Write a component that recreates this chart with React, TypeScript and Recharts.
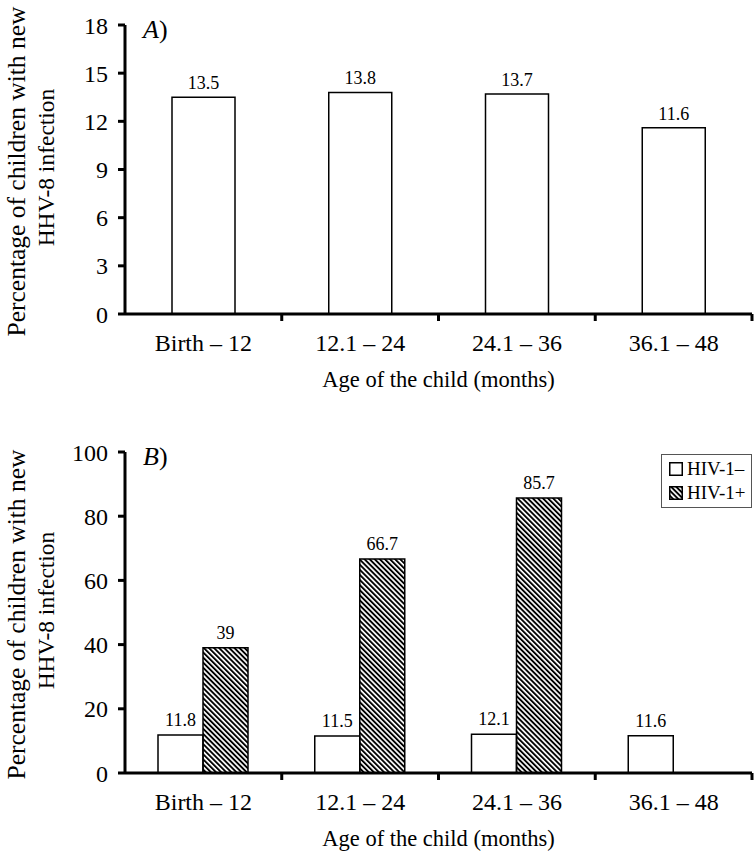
import React from "react";
import { Bar, BarChart, LabelList, Legend, XAxis, YAxis } from "recharts";

const ageGroups = ["Birth – 12", "12.1 – 24", "24.1 – 36", "36.1 – 48"];
const overallPct = [13.5, 13.8, 13.7, 11.6];
const hivNegPct = [11.8, 11.5, 12.1, 11.6];
const hivPosPct: (number | null)[] = [39, 66.7, 85.7, null];
const ticksA = [0, 3, 6, 9, 12, 15, 18];
const ticksB = [0, 20, 40, 60, 80, 100];

const FONT = "Liberation Serif, Times New Roman, serif";
const TICK_SIZE = 6;
const TICK_MARGIN = 14;

const dataA = ageGroups.map((age, i) => ({ age, pct: overallPct[i] }));
const dataB = ageGroups.map((age, i) => ({ age, neg: hivNegPct[i], pos: hivPosPct[i] }));

// category label centred, tick mark at the right edge of each band
function AgeTick(props: any) {
  const { x, y, payload } = props;
  const half = payload?.offset ?? (props.width ? props.width / 8 : 78);
  const axisY = y - TICK_SIZE - TICK_MARGIN;
  return (
    <g>
      <line x1={x + half} x2={x + half} y1={axisY} y2={axisY + 7} stroke="#000" strokeWidth={3} />
      <text x={x} y={axisY + 37} textAnchor="middle" fontSize={24} fontFamily={FONT} fill="#000">
        {payload.value}
      </text>
    </g>
  );
}

function yTitle(panel: string) {
  return (props: any) => {
    const vb = props.viewBox;
    const cy = vb.y + vb.height / 2;
    const right = vb.x + vb.width;
    return (
      <g fill="#000" fontFamily={FONT}>
        <text
          transform={`translate(${vb.x + 16}, ${cy + 2}) rotate(-90)`}
          textAnchor="middle"
          dominantBaseline="central"
          fontSize={25.5}
        >
          Percentage of children with new
        </text>
        <text
          transform={`translate(${vb.x + 46}, ${cy - 2}) rotate(-90)`}
          textAnchor="middle"
          dominantBaseline="central"
          fontSize={23.5}
        >
          HHV-8 infection
        </text>
        <text x={right + 18} y={vb.y + 13} fontSize={26}>
          <tspan fontStyle="italic">{panel}</tspan>)
        </text>
      </g>
    );
  };
}

function xTitle(props: any) {
  const vb = props.viewBox;
  return (
    <text x={vb.x + vb.width / 2} y={vb.y + 73} textAnchor="middle" fontSize={22.5} fontFamily={FONT} fill="#000">
      Age of the child (months)
    </text>
  );
}

function HivLegend() {
  const row = { display: "flex", alignItems: "center", height: 24 } as const;
  return (
    <div
      style={{
        border: "1.5px solid #555",
        background: "#fff",
        padding: "2px 4px 2px 7px",
        fontSize: 19,
        lineHeight: "24px",
        color: "#000",
        fontFamily: FONT,
        boxSizing: "border-box",
      }}
    >
      <div style={row}>
        <svg width={14} height={14}>
          <rect x={0.75} y={0.75} width={12.5} height={12.5} fill="#fff" stroke="#000" strokeWidth={1.5} />
        </svg>
        <span style={{ marginLeft: 4 }}>HIV-1–</span>
      </div>
      <div style={row}>
        <svg width={14} height={14}>
          <defs>
            <pattern id="hatchLegend" patternUnits="userSpaceOnUse" width={3.6} height={3.6} patternTransform="rotate(-45)">
              <rect width={1.9} height={3.6} fill="#000" />
            </pattern>
          </defs>
          <rect x={0.75} y={0.75} width={12.5} height={12.5} fill="url(#hatchLegend)" stroke="#000" strokeWidth={1.5} />
        </svg>
        <span style={{ marginLeft: 4 }}>HIV-1+</span>
      </div>
    </div>
  );
}

const yAxisCommon = {
  width: 125,
  interval: 0 as const,
  tickSize: 7,
  tickMargin: 10,
  axisLine: { stroke: "#000", strokeWidth: 3 },
  tickLine: { stroke: "#000", strokeWidth: 3 },
  tick: { fill: "#000", fontSize: 24, fontFamily: FONT },
};

const xAxisCommon = {
  dataKey: "age",
  height: 80,
  interval: 0 as const,
  tickSize: TICK_SIZE,
  tickMargin: TICK_MARGIN,
  tickLine: false,
  axisLine: { stroke: "#000", strokeWidth: 3 },
  tick: <AgeTick />,
  label: { content: xTitle },
};

const valueLabel = { position: "top" as const, fontSize: 18, fontFamily: FONT, fill: "#000" };

export default function App() {
  return (
    <div
      style={{
        position: "absolute",
        left: 0,
        top: 0,
        width: 756,
        height: 853,
        background: "#fff",
        fontFamily: FONT,
      }}
    >
      <BarChart
        width={756}
        height={420}
        data={dataA}
        style={{ fontFamily: FONT }}
        margin={{ top: 25, right: 4, bottom: 26, left: 0 }}
      >
        <XAxis {...xAxisCommon} />
        <YAxis {...yAxisCommon} domain={[0, 18]} ticks={ticksA} label={{ content: yTitle("A") }} />
        <Bar dataKey="pct" fill="#fff" stroke="#000" strokeWidth={1.5} barSize={63} isAnimationActive={false}>
          <LabelList dataKey="pct" offset={8} {...valueLabel} />
        </Bar>
      </BarChart>
      <BarChart
        width={756}
        height={433}
        data={dataB}
        barGap={0}
        style={{ fontFamily: FONT }}
        margin={{ top: 32, right: 4, bottom: 0, left: 0 }}
      >
        <defs>
          <pattern id="hatchB" patternUnits="userSpaceOnUse" width={3.6} height={3.6} patternTransform="rotate(-45)">
            <rect width={1.9} height={3.6} fill="#000" />
          </pattern>
        </defs>
        <XAxis {...xAxisCommon} />
        <YAxis {...yAxisCommon} domain={[0, 100]} ticks={ticksB} label={{ content: yTitle("B") }} />
        <Legend
          layout="vertical"
          align="center"
          verticalAlign="middle"
          content={() => <HivLegend />}
          wrapperStyle={{ top: 34, left: 661, width: 91, right: "auto", bottom: "auto" }}
        />
        <Bar dataKey="neg" name="HIV-1–" fill="#fff" stroke="#000" strokeWidth={1.5} barSize={45} isAnimationActive={false}>
          <LabelList dataKey="neg" offset={9} {...valueLabel} />
        </Bar>
        <Bar dataKey="pos" name="HIV-1+" fill="url(#hatchB)" stroke="#000" strokeWidth={1.5} barSize={45} isAnimationActive={false}>
          <LabelList dataKey="pos" offset={9} {...valueLabel} />
        </Bar>
      </BarChart>
    </div>
  );
}
